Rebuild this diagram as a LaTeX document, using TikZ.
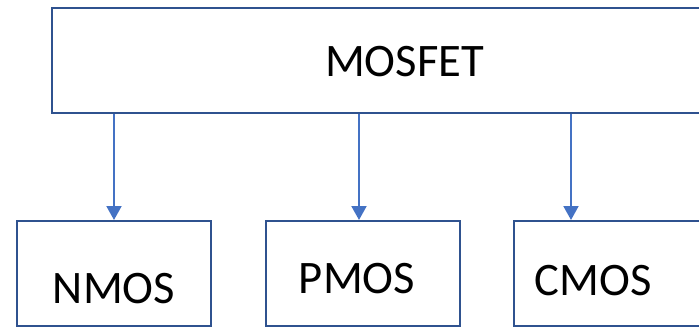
\documentclass[tikz,border=0pt]{standalone}
\usepackage{fontspec}
\setmainfont{Carlito}
\usetikzlibrary{arrows.meta}
\definecolor{boxblue}{HTML}{2F528F}
\definecolor{arrowblue}{HTML}{4472C4}
\tikzset{
    unit/.style={draw=boxblue,line width=2pt,inner sep=0pt,minimum height=105pt,minimum width=194pt},
    word/.style={anchor=base,inner sep=0pt,font=\fontsize{46.6}{50}\selectfont},
    link/.style={draw=arrowblue,line width=2pt,-{Triangle[length=14pt,width=15pt]}}
}
\begin{document}
\begin{tikzpicture}[x=1pt,y=-1pt]
                \useasboundingbox (0,0) rectangle (699,329);
                \node[unit,minimum width=705pt,minimum height=104.5pt] (mosfet) at (404.5,60.75) {};
                \node[unit] (nmos) at (114,273.5) {};
                \node[unit] (pmos) at (363,273.5) {};
                \node[unit] (cmos) at (611,273.5) {};
                \node[word] (mosfettext) at (404.5,77) {MOSFET};
                \node[word] (nmostext) at (114,303) {NMOS};
                \node[word] (pmostext) at (357,293) {PMOS};
                \node[word] (cmostext) at (593,295) {CMOS};
                \coordinate (nx) at (114,0);
                \coordinate (px) at (359,0);
                \coordinate (cx) at (571,0);
                \draw[link] (mosfet.south -| nx) -- (nmos.north -| nx);
                \draw[link] (mosfet.south -| px) -- (pmos.north -| px);
                \draw[link] (mosfet.south -| cx) -- (cmos.north -| cx);
\end{tikzpicture}
\end{document}
